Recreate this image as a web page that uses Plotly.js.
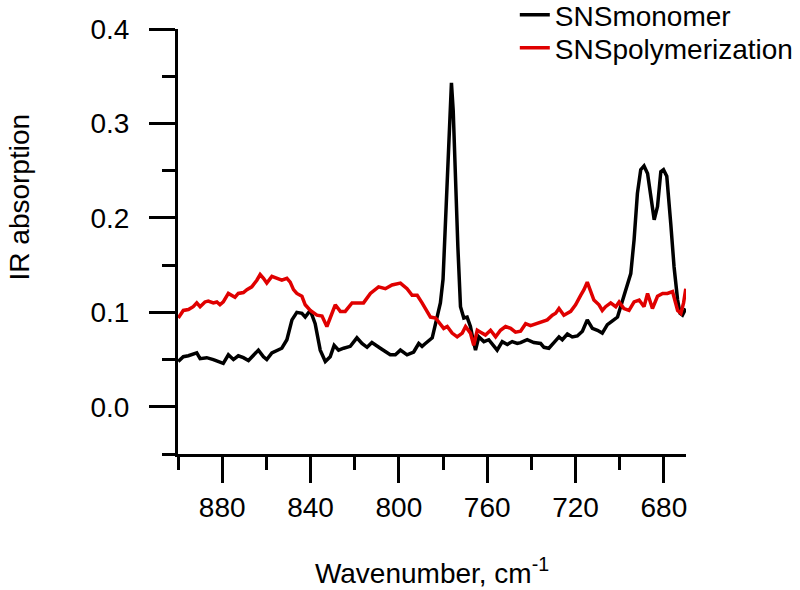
<!DOCTYPE html>
<html>
<head>
<meta charset="utf-8">
<script src="https://cdn.plot.ly/plotly-3.0.1.min.js"></script>
<style>html,body{margin:0;padding:0;background:#fff;}#chart{width:800px;height:590px;}</style>
</head>
<body>
<div id="chart"></div>
<script>
// Wavenumber (cm-1) and IR absorption
const monomerX = [899.9,897.6,895.3,893.1,891.5,890.0,887.0,884.0,881.7,879.5,877.2,874.9,872.7,870.4,868.1,865.9,863.6,861.3,859.8,857.5,855.2,853.0,850.7,848.4,846.2,843.9,842.4,840.1,837.9,835.6,833.3,831.1,829.3,827.3,825.0,822.0,819.0,816.7,814.4,812.2,808.4,803.9,801.6,799.3,796.3,793.3,791.0,789.5,788.0,784.9,782.7,781.2,780.0,779.4,778.1,777.0,776.2,775.4,774.5,773.3,772.1,770.6,769.1,767.6,766.4,765.3,763.8,761.5,759.3,757.0,755.5,753.2,750.9,748.7,746.4,744.9,741.9,738.9,735.8,734.3,732.1,729.8,727.5,726.0,723.7,721.5,719.2,716.9,714.7,712.4,710.1,707.9,705.6,703.3,701.0,699.6,698.1,696.5,695.0,693.5,692.0,690.5,689.0,687.4,685.9,684.4,682.9,681.4,680.2,678.7,676.9,675.4,673.8,672.7,671.6,670.1];
const monomerY = [0.048,0.053,0.054,0.056,0.057,0.051,0.052,0.050,0.048,0.046,0.055,0.050,0.054,0.052,0.049,0.054,0.060,0.053,0.050,0.057,0.060,0.062,0.071,0.092,0.100,0.099,0.095,0.102,0.088,0.060,0.048,0.053,0.065,0.060,0.062,0.064,0.073,0.067,0.063,0.068,0.062,0.055,0.055,0.060,0.055,0.058,0.067,0.064,0.067,0.073,0.095,0.110,0.135,0.170,0.244,0.314,0.343,0.314,0.244,0.170,0.106,0.094,0.095,0.085,0.071,0.060,0.074,0.069,0.071,0.065,0.060,0.069,0.066,0.069,0.067,0.068,0.071,0.068,0.067,0.063,0.062,0.068,0.074,0.071,0.077,0.074,0.075,0.080,0.092,0.083,0.081,0.078,0.087,0.091,0.095,0.106,0.117,0.127,0.141,0.177,0.226,0.251,0.255,0.247,0.219,0.198,0.212,0.249,0.251,0.244,0.194,0.148,0.113,0.099,0.097,0.104];

const polymerX = [899.9,897.6,895.3,893.1,891.5,890.0,887.8,886.3,884.0,882.4,881.0,879.5,877.2,875.6,874.2,872.7,870.4,868.8,866.6,864.3,862.8,861.3,859.8,857.5,855.2,853.0,850.7,849.2,847.7,846.2,843.9,842.4,840.1,837.1,834.8,832.6,831.1,828.8,826.5,824.3,821.2,818.2,816.0,812.9,809.2,806.1,803.1,799.3,796.3,794.0,791.7,789.5,787.2,785.7,783.4,781.2,779.7,778.1,775.9,773.6,771.3,769.8,767.6,766.1,764.5,763.0,760.8,758.5,756.2,754.0,751.7,749.4,747.2,744.9,742.6,740.4,738.1,735.1,732.8,730.5,729.0,727.5,725.3,722.2,720.0,717.7,716.2,714.7,713.2,711.7,709.4,707.9,706.4,704.1,701.8,700.3,698.1,695.8,693.5,691.2,689.0,687.4,685.2,682.9,680.6,678.4,676.1,673.8,672.3,671.1,670.1];
const polymerY = [0.094,0.102,0.103,0.106,0.110,0.106,0.111,0.112,0.110,0.111,0.108,0.111,0.120,0.118,0.116,0.120,0.121,0.124,0.127,0.134,0.140,0.136,0.131,0.138,0.136,0.134,0.136,0.132,0.124,0.120,0.117,0.108,0.102,0.097,0.096,0.085,0.094,0.108,0.101,0.101,0.110,0.110,0.110,0.120,0.127,0.125,0.129,0.131,0.125,0.118,0.118,0.110,0.101,0.095,0.094,0.088,0.083,0.085,0.078,0.074,0.078,0.085,0.078,0.065,0.081,0.079,0.076,0.081,0.074,0.081,0.085,0.083,0.079,0.080,0.088,0.086,0.088,0.090,0.092,0.097,0.099,0.104,0.097,0.101,0.108,0.118,0.124,0.132,0.122,0.113,0.108,0.102,0.106,0.110,0.106,0.111,0.104,0.102,0.111,0.113,0.106,0.120,0.104,0.117,0.120,0.120,0.122,0.102,0.099,0.110,0.125];

const seriesNames = ['SNSmonomer', 'SNSpolymerization'];
const xTickVals = [880, 840, 800, 760, 720, 680];
const yTickVals = [0.0, 0.1, 0.2, 0.3, 0.4];

const FONT = 'Liberation Sans, Arial, sans-serif';

const traces = [
  {x: monomerX, y: monomerY, name: seriesNames[0], type: 'scatter', mode: 'lines',
   line: {color: '#000000', width: 3.5}, legend: 'legend'},
  {x: polymerX, y: polymerY, name: seriesNames[1], type: 'scatter', mode: 'lines',
   line: {color: '#e00000', width: 3.5}, legend: 'legend2'}
];

const axisCommon = {
  showline: true, linewidth: 3, linecolor: '#000', mirror: false,
  ticks: 'outside', ticklen: 26, tickwidth: 3, tickcolor: '#000',
  showgrid: false, zeroline: false, automargin: false,
  tickfont: {family: FONT, size: 28, color: '#000'}
};

const legendCommon = {xanchor: 'left', yanchor: 'middle',
  font: {family: FONT, size: 28, color: '#000'}, bgcolor: 'rgba(0,0,0,0)'};

const layout = {
  width: 800, height: 590,
  margin: {l: 178, r: 114, t: 29, b: 136, autoexpand: false},
  paper_bgcolor: '#fff', plot_bgcolor: '#fff',
  font: {family: FONT, color: '#000'},
  showlegend: true,
  legend: Object.assign({}, legendCommon, {x: 0.663, y: 1.033}),
  legend2: Object.assign({}, legendCommon, {x: 0.663, y: 0.955}),
  xaxis: Object.assign({}, axisCommon, {
    range: [900, 670], tickvals: xTickVals, ticktext: xTickVals.map(String),
    ticklabelstandoff: 0,
    minor: {ticks: 'outside', ticklen: 13, tickwidth: 3, tickcolor: '#000', tickvals: [900, 860, 820, 780, 740, 700]},
    title: {text: 'Wavenumber, cm<sup>-1</sup>', font: {family: FONT, size: 28, color: '#000'}, standoff: 42}
  }),
  yaxis: Object.assign({}, axisCommon, {
    range: [-0.05, 0.4], tickvals: yTickVals, ticktext: yTickVals.map(v => v.toFixed(1)),
    ticklabelstandoff: 14,
    minor: {ticks: 'outside', ticklen: 13, tickwidth: 3, tickcolor: '#000', tickvals: [-0.05, 0.05, 0.15, 0.25, 0.35]}
  }),
  annotations: [{
    text: 'IR absorption', textangle: -90, xref: 'paper', yref: 'paper',
    x: -0.313, y: 0.606, xanchor: 'center', yanchor: 'middle', showarrow: false,
    font: {family: FONT, size: 28, color: '#000'}
  }]
};

Plotly.newPlot('chart', traces, layout, {staticPlot: true, displayModeBar: false});
</script>
</body>
</html>
